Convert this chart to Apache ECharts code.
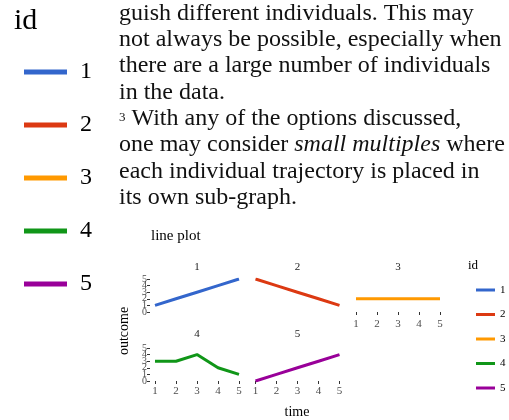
<!DOCTYPE html>
<html>
<head>
<meta charset="utf-8">
<script src="https://cdn.jsdelivr.net/npm/echarts@6/dist/echarts.min.js"></script>
<style>
  html, body { margin: 0; padding: 0; background: #fff; }
  #chart { width: 509px; height: 420px; }
</style>
</head>
<body>
<div id="chart"></div>
<script>
// Longitudinal outcome for five individuals over five time points
const timePoints = [1, 2, 3, 4, 5];
const ids = ['1', '2', '3', '4', '5'];
const outcomeId1 = [1, 2, 3, 4, 5];
const outcomeId2 = [5, 4, 3, 2, 1];
const outcomeId3 = [2, 2, 2, 2, 2];
const outcomeId4 = [3, 3, 4, 2, 1];
const outcomeId5 = [0, 1, 2, 3, 4];
const outcomeTicks = [0, 1, 2, 3, 4, 5];
const idColors = ['#3366CC', '#DC3912', '#FF9900', '#109618', '#990099'];

const outcomes = [outcomeId1, outcomeId2, outcomeId3, outcomeId4, outcomeId5];

// Body text set beside the figure
const bodyLines = [
  '{t|guish different individuals. This may}',
  '{t|not always be possible, especially when}',
  '{t|there are a large number of individuals}',
  '{t|in the data.}',
  '{sup|3}{t| With any of the options discussed,}',
  '{t|one may consider }{it|small multiples}{t| where}',
  '{t|each individual trajectory is placed in}',
  '{t|its own sub-graph.}'
];

const SERIF = '"Liberation Serif", "Times New Roman", serif';

// facet layout: 3 columns, wrapped into 2 rows
const colLeft = [155, 255.5, 356];
const rowTop = [279, 348];
const panelW = 84, panelH = 33;
const stripY = [267, 334];
const panelCol = [0, 1, 2, 0, 1];
const panelRow = [0, 0, 0, 1, 1];
const showXLabels = [false, false, true, true, true];
const showYLabels = [true, false, false, true, false];
const xOffset = [2, 2, 4, 2, 2];

// the tightly packed outcome ticks are split over two stacked axes so that
// none of the labels is dropped by overlap handling
const evenTicks = outcomeTicks.filter((v, k) => k % 2 === 0);
const oddTicks = outcomeTicks.filter((v, k) => k % 2 === 1);

const grids = [], xAxes = [], yAxes = [], series = [], graphics = [];

function outcomeAxis(i, values) {
  return {
    type: 'value', gridIndex: i, min: 0, max: 5, position: 'left', offset: 5,
    axisLine: { show: false },
    splitLine: { show: false },
    axisTick: { show: showYLabels[i], length: 3, lineStyle: { color: '#333', width: 1 }, customValues: values },
    axisLabel: {
      show: showYLabels[i], margin: 3, color: '#4D4D4D', fontFamily: SERIF, fontSize: 10,
      customValues: values
    }
  };
}

ids.forEach((id, i) => {
  grids.push({
    left: colLeft[panelCol[i]], top: rowTop[panelRow[i]],
    width: panelW, height: panelH, containLabel: false
  });
  xAxes.push({
    type: 'value', gridIndex: i, min: 1, max: 5, interval: 1, offset: xOffset[i],
    axisLine: { show: false },
    splitLine: { show: false },
    axisTick: { show: showXLabels[i], length: 3, lineStyle: { color: '#333', width: 1 }, customValues: timePoints },
    axisLabel: {
      show: showXLabels[i], margin: 3, color: '#4D4D4D', fontFamily: SERIF, fontSize: 11,
      customValues: timePoints
    }
  });
  yAxes.push(outcomeAxis(i, evenTicks));
  yAxes.push(outcomeAxis(i, oddTicks));
  series.push({
    name: id, type: 'line', xAxisIndex: i, yAxisIndex: 2 * i,
    data: timePoints.map((t, k) => [t, outcomes[i][k]]),
    showSymbol: false, symbol: 'none',
    lineStyle: { width: 3, color: idColors[i] },
    itemStyle: { color: idColors[i] },
    emphasis: { disabled: true },
    animation: false
  });
  graphics.push({
    type: 'text', x: colLeft[panelCol[i]] + panelW / 2, y: stripY[panelRow[i]],
    style: { text: id, fill: '#1A1A1A', font: '11px ' + SERIF, textAlign: 'center', textVerticalAlign: 'middle' }
  });
});

// paragraph lines
bodyLines.forEach((line, n) => {
  graphics.push({
    type: 'text', x: 119, y: 17.5 + n * 26.3 - 4,
    style: {
      text: line, textAlign: 'left', textVerticalAlign: 'middle',
      rich: {
        t: { fontFamily: SERIF, fontSize: 24, fill: '#111' },
        it: { fontFamily: SERIF, fontSize: 24, fontStyle: 'italic', fill: '#111' },
        sup: { fontFamily: SERIF, fontSize: 13, fill: '#111', verticalAlign: 'bottom', padding: [0, 0, 7, 0] }
      }
    }
  });
});

// large legend title on the left
graphics.push({
  type: 'text', x: 14, y: 21,
  style: { text: 'id', fill: '#000', font: '30px ' + SERIF, textAlign: 'left', textVerticalAlign: 'middle' }
});
// plot title and axis names
graphics.push({
  type: 'text', x: 151, y: 236,
  style: { text: 'line plot', fill: '#000', font: '15px ' + SERIF, textAlign: 'left', textVerticalAlign: 'middle' }
});
graphics.push({
  type: 'text', x: 297, y: 412,
  style: { text: 'time', fill: '#000', font: '14px ' + SERIF, textAlign: 'center', textVerticalAlign: 'middle' }
});
graphics.push({
  type: 'text', x: 124, y: 331, rotation: Math.PI / 2,
  style: { text: 'outcome', fill: '#000', font: '14px ' + SERIF, textAlign: 'center', textVerticalAlign: 'middle' }
});
// small legend title on the right
graphics.push({
  type: 'text', x: 468, y: 266,
  style: { text: 'id', fill: '#000', font: '13px ' + SERIF, textAlign: 'left', textVerticalAlign: 'middle' }
});

const chart = echarts.init(document.getElementById('chart'), null, { renderer: 'canvas' });
chart.setOption({
  animation: false,
  backgroundColor: '#fff',
  grid: grids,
  xAxis: xAxes,
  yAxis: yAxes,
  series: series,
  legend: [
    {
      data: ids, orient: 'vertical', left: 19, top: 55,
      icon: 'rect', itemWidth: 43, itemHeight: 5, itemGap: 29,
      selectedMode: false,
      textStyle: { fontFamily: SERIF, fontSize: 24, color: '#000', lineHeight: 24, padding: [0, 0, 0, 8] }
    },
    {
      data: ids, orient: 'vertical', left: 471, top: 279,
      icon: 'rect', itemWidth: 19, itemHeight: 3, itemGap: 12.5,
      selectedMode: false,
      textStyle: { fontFamily: SERIF, fontSize: 11, color: '#000', lineHeight: 12 }
    }
  ],
  graphic: graphics
});
</script>
</body>
</html>
